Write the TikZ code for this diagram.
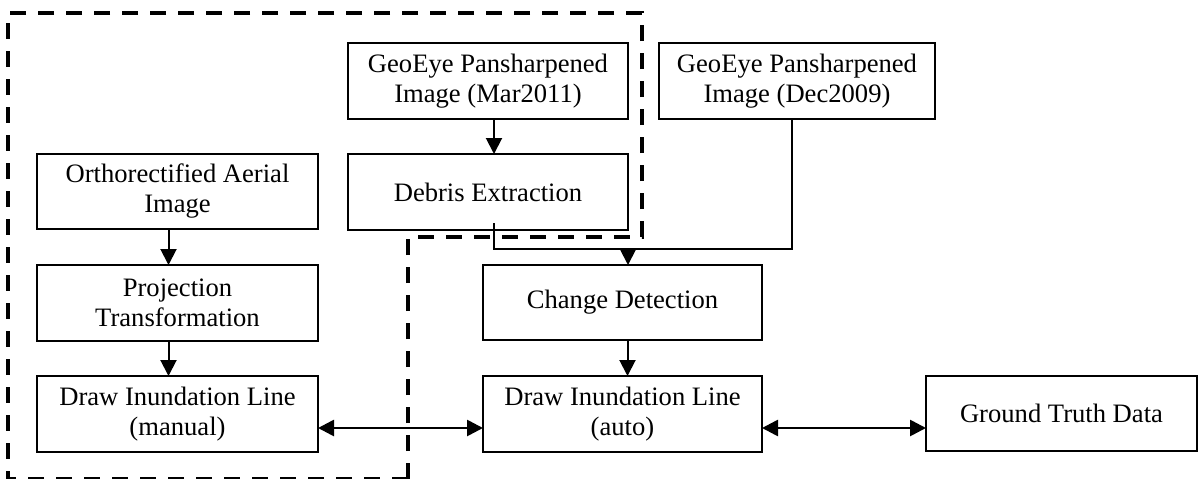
\documentclass[tikz,border=0pt]{standalone}
\usepackage{fontspec}
\setmainfont{Liberation Serif}
\usetikzlibrary{arrows.meta,calc}
\begin{document}
\begin{tikzpicture}[x=1pt,y=-1pt,
  box/.style={draw,line width=1.8pt,inner sep=0pt,outer sep=0pt,align=center,
    font=\fontsize{26.6pt}{30pt}\selectfont},
  arr/.style={line width=2pt,-{Triangle[length=16pt,width=16pt]}},
  darr/.style={line width=2.7pt,{Triangle[length=16pt,width=16pt]}-{Triangle[length=16pt,width=16pt]}},
  conn/.style={line width=1.8pt},
  region/.style={line width=4pt,dash pattern=on 16pt off 12pt}]
\useasboundingbox (0,0) rectangle (1200,479);
% boxes
\node[box,minimum width=280pt,minimum height=76pt] (mar) at (488,81) {GeoEye Pansharpened\\Image (Mar2011)};
\node[box,minimum width=276pt,minimum height=76pt] (dec) at (797,81) {GeoEye Pansharpened\\Image (Dec2009)};
\node[box,minimum width=280pt,minimum height=76pt] (debris) at (488,192) {Debris Extraction};
\node[box,minimum width=281pt,minimum height=75pt] (ortho) at (177.5,191.5) {Orthorectified Aerial\\Image};
\node[box,minimum width=281pt,minimum height=76pt] (proj) at (177.5,303) {Projection\\Transformation};
\node[box,minimum width=281pt,minimum height=76pt] (manual) at (177.5,414) {Draw Inundation Line\\(manual)};
\node[box,minimum width=279pt,minimum height=75pt] (change) at (622.5,302.5) {Change Detection};
\node[box,minimum width=279pt,minimum height=76pt] (auto) at (622.5,414) {Draw Inundation Line\\(auto)};
\node[box,minimum width=271pt,minimum height=75pt] (ground) at (1061.5,413.5) {Ground Truth Data};
% dashed region
\draw[region] (408,479) -- (408,237) -- (642,237) -- (642,13) -- (8,13) -- (8,479) -- cycle;
% arrows
\draw[arr] ([xshift=6pt]mar.south) -- ([xshift=6pt]debris.north);
\draw[arr] ([xshift=-9pt]ortho.south) -- ([xshift=-9pt]proj.north);
\draw[arr] ([xshift=-9pt]proj.south) -- ([xshift=-9pt]manual.north);
\draw[arr] ([xshift=5pt]change.south) -- ([xshift=5pt]auto.north);
% merge connector
\coordinate (dtop) at ($(debris.south)+(6,-7)$);
\coordinate (jl) at (494,249);
\coordinate (jc) at (628,249);
\coordinate (dbot) at ($(dec.south)+(-5,0)$);
\draw[conn] (dtop) -- (jl) -- (jl -| dbot) -- (dbot);
\draw[arr] (jc) -- (jc |- change.north);
% double arrows
\draw[darr] (manual.east |- 0,428) -- (auto.west |- 0,428);
\draw[darr] (auto.east |- 0,428) -- (ground.west |- 0,428);
\end{tikzpicture}
\end{document}
